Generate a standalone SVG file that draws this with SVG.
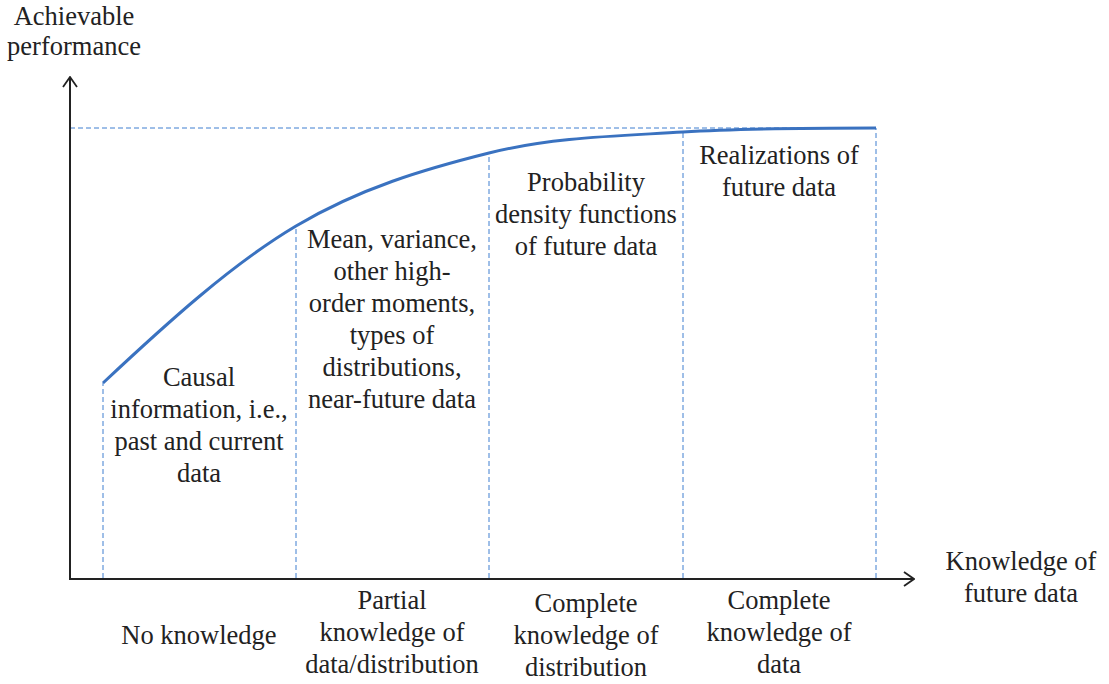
<svg xmlns="http://www.w3.org/2000/svg" width="1109" height="684" viewBox="0 0 1109 684">
<style>
text{font-family:"Liberation Serif","Times New Roman",serif;font-size:26.5px;fill:#222;text-anchor:middle}
.ax{stroke:#222;stroke-width:2;fill:none}
.dash{stroke:#3f7fd0;stroke-width:1;stroke-dasharray:5,3;fill:none}
.curve{stroke:#3a72c0;stroke-width:3;fill:none}
</style>
<defs>
<marker id="arr" viewBox="0 0 12 16" refX="11" refY="8" markerWidth="12" markerHeight="16" markerUnits="userSpaceOnUse" orient="auto">
<path d="M1,1 L11,8 L1,15" fill="none" stroke="#222" stroke-width="1.8"/>
</marker>
</defs>
<g id="guides">
<line class="dash" x1="70" y1="128" x2="876" y2="128"/>
<line class="dash" x1="103" y1="578" x2="103" y2="383"/>
<line class="dash" x1="296" y1="578" x2="296" y2="226"/>
<line class="dash" x1="489" y1="578" x2="489" y2="153"/>
<line class="dash" x1="683" y1="578" x2="683" y2="132"/>
<line class="dash" x1="876" y1="578" x2="876" y2="128"/>
</g>
<g id="axes">
<line class="ax" x1="70" y1="579" x2="70" y2="77" marker-end="url(#arr)"/>
<line class="ax" x1="69" y1="579" x2="914" y2="579" marker-end="url(#arr)"/>
</g>
<g id="curve">
<path class="curve" d="M103,383 C167,323 232,264 296,226 C360,188 425,169 489,153 C553,137 619,136 683,132 C747,128 812,128 876,128"/>
</g>
<g id="y-label"><text x="74" y="25">Achievable</text><text x="74" y="55">performance</text></g>
<g id="x-label"><text x="1021" y="570">Knowledge of</text><text x="1021" y="602">future data</text></g>
<g id="region1"><text x="199" y="386">Causal</text><text x="199" y="418">information, i.e.,</text><text x="199" y="450">past and current</text><text x="199" y="482">data</text></g>
<g id="region2"><text x="392" y="248">Mean, variance,</text><text x="392" y="280">other high-</text><text x="392" y="312">order moments,</text><text x="392" y="344">types of</text><text x="392" y="376">distributions,</text><text x="392" y="408">near-future data</text></g>
<g id="region3"><text x="586" y="191">Probability</text><text x="586" y="223">density functions</text><text x="586" y="255">of future data</text></g>
<g id="region4"><text x="779" y="164">Realizations of</text><text x="779" y="196">future data</text></g>
<g id="bottom1"><text x="199" y="644">No knowledge</text></g>
<g id="bottom2"><text x="392" y="609">Partial</text><text x="392" y="641">knowledge of</text><text x="392" y="673">data/distribution</text></g>
<g id="bottom3"><text x="586" y="612">Complete</text><text x="586" y="644">knowledge of</text><text x="586" y="676">distribution</text></g>
<g id="bottom4"><text x="779" y="609">Complete</text><text x="779" y="641">knowledge of</text><text x="779" y="673">data</text></g>
</svg>
